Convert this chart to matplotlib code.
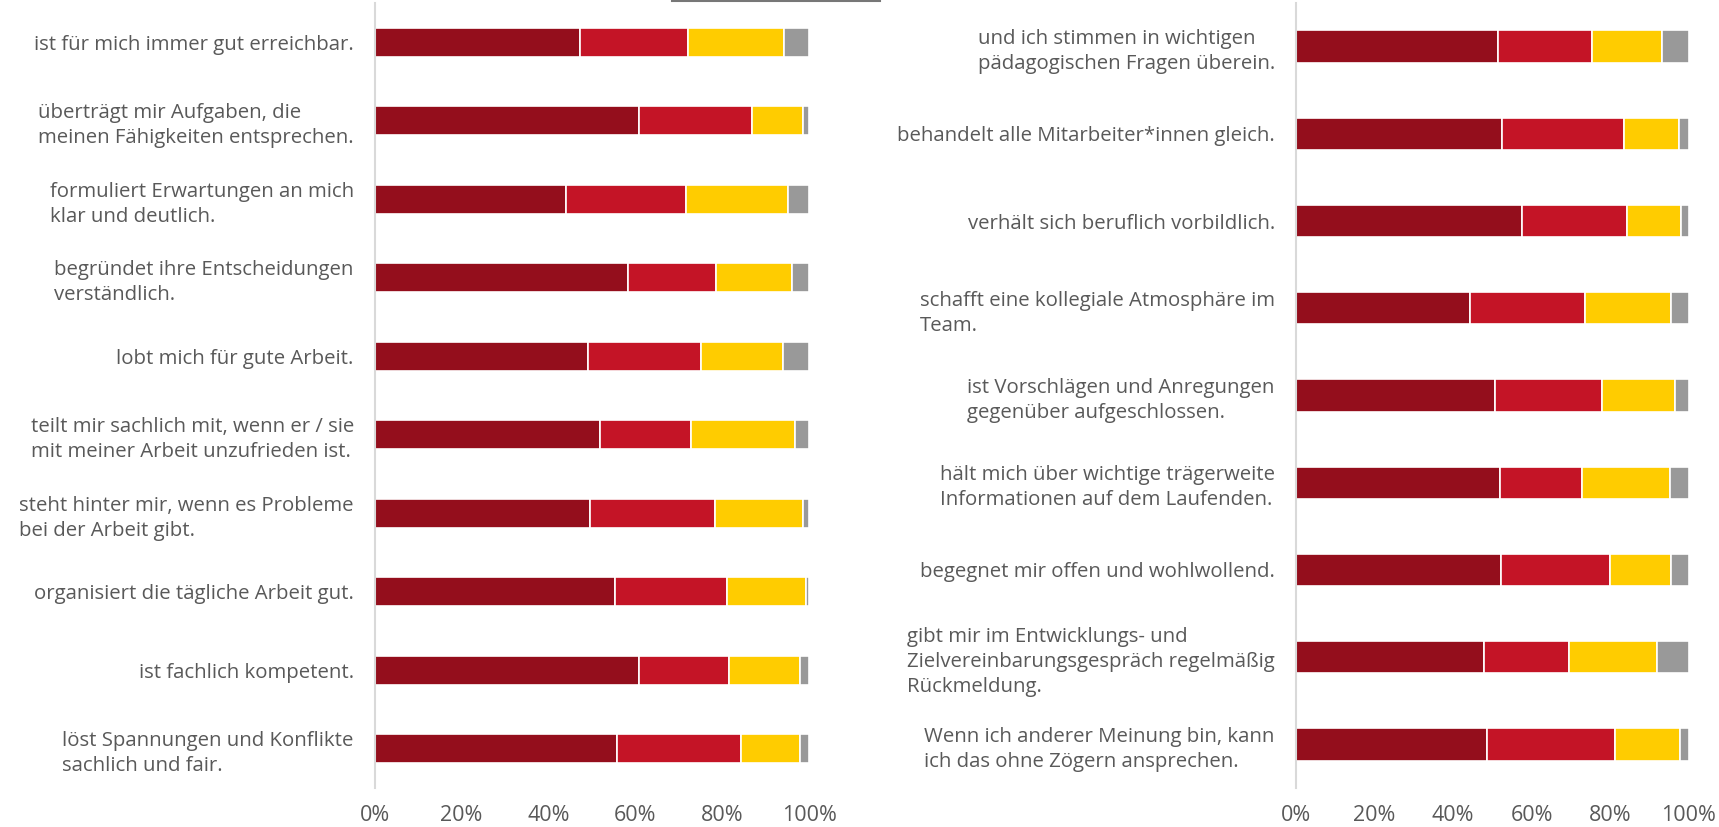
import matplotlib
matplotlib.use("Agg")
import matplotlib.pyplot as plt
from matplotlib.lines import Line2D
from matplotlib.ticker import PercentFormatter

# ---- data ----
left_labels = [
    "ist für mich immer gut erreichbar.",
    "überträgt mir Aufgaben, die\nmeinen Fähigkeiten entsprechen.",
    "formuliert Erwartungen an mich\nklar und deutlich.",
    "begründet ihre Entscheidungen\nverständlich.",
    "lobt mich für gute Arbeit.",
    "teilt mir sachlich mit, wenn er / sie\nmit meiner Arbeit unzufrieden ist.",
    "steht hinter mir, wenn es Probleme\nbei der Arbeit gibt.",
    "organisiert die tägliche Arbeit gut.",
    "ist fachlich kompetent.",
    "löst Spannungen und Konflikte\nsachlich und fair.",
]
left_s1 = [47.2, 60.9, 44.1, 58.4, 49.1, 51.9, 49.6, 55.3, 60.8, 55.7]
left_s2 = [24.9, 25.9, 27.6, 20.1, 26.0, 20.9, 28.8, 25.8, 20.8, 28.6]
left_s3 = [22.2, 11.8, 23.5, 17.7, 19.0, 24.0, 20.2, 18.2, 16.3, 13.7]
left_s4 = [5.7, 1.4, 4.8, 3.8, 5.9, 3.2, 1.4, 0.7, 2.1, 2.0]

right_labels = [
    "und ich stimmen in wichtigen\npädagogischen Fragen überein.",
    "behandelt alle Mitarbeiter*innen gleich.",
    "verhält sich beruflich vorbildlich.",
    "schafft eine kollegiale Atmosphäre im\nTeam.",
    "ist Vorschlägen und Anregungen\ngegenüber aufgeschlossen.",
    "hält mich über wichtige trägerweite\nInformationen auf dem Laufenden.",
    "begegnet mir offen und wohlwollend.",
    "gibt mir im Entwicklungs- und\nZielvereinbarungsgespräch regelmäßig\nRückmeldung.",
    "Wenn ich anderer Meinung bin, kann\nich das ohne Zögern ansprechen.",
]
right_s1 = [51.6, 52.6, 57.6, 44.4, 50.7, 52.0, 52.3, 47.9, 48.7]
right_s2 = [23.9, 30.9, 26.7, 29.1, 27.3, 20.9, 27.6, 21.6, 32.6]
right_s3 = [17.8, 14.1, 13.7, 22.1, 18.6, 22.3, 15.7, 22.4, 16.4]
right_s4 = [6.7, 2.4, 2.0, 4.4, 3.4, 4.8, 4.4, 8.1, 2.3]

xticks = [0, 20, 40, 60, 80, 100]
colors = ["#940E1C", "#C41426", "#FFCC00", "#999999"]
text_color = "#595959"

plt.rcParams['font.family'] = ['Open Sans', 'DejaVu Sans']

fig = plt.figure(figsize=(17.19, 8.27), dpi=100)

W, H = 1719, 827
bottom = 1 - 788 / H
height = (788 - 3) / H
ax_l = fig.add_axes([374.7 / W, bottom, 434.3 / W, height])
ax_r = fig.add_axes([1295.7 / W, bottom, 393.0 / W, height])


def draw(ax, labels, series):
    n = len(labels)
    ypos = list(range(n))
    left = [0.0] * n
    for vals, c in zip(series, colors):
        ax.barh(ypos, vals, left=left, height=0.37, color=c,
                edgecolor="white", linewidth=1.2)
        left = [a + b for a, b in zip(left, vals)]
    ax.set_ylim(n - 0.5, -0.5)
    ax.set_xlim(0, 100)
    ax.set_yticks(ypos)
    ax.set_yticklabels(labels, fontsize=14.7, color=text_color)
    for t in ax.get_yticklabels():
        t.set_multialignment('left')
        t.set_linespacing(1.33)
    ax.set_xticks(xticks)
    ax.xaxis.set_major_formatter(PercentFormatter(decimals=0))
    ax.tick_params(axis='x', length=0, pad=12, labelsize=15.5,
                   labelcolor=text_color)
    ax.tick_params(axis='y', length=0, pad=15)
    for s in ['top', 'right', 'bottom']:
        ax.spines[s].set_visible(False)
    ax.spines['left'].set_color("#D9D9D9")
    ax.spines['left'].set_linewidth(1.5)


draw(ax_l, left_labels, [left_s1, left_s2, left_s3, left_s4])
draw(ax_r, right_labels, [right_s1, right_s2, right_s3, right_s4])

# remnant of cut-off title underline at the very top
fig.add_artist(Line2D([672 / W, 880 / W], [1 - 0.8 / H, 1 - 0.8 / H],
                      color="#777777", linewidth=1.5,
                      transform=fig.transFigure))

fig.savefig("out.png", dpi=100)
